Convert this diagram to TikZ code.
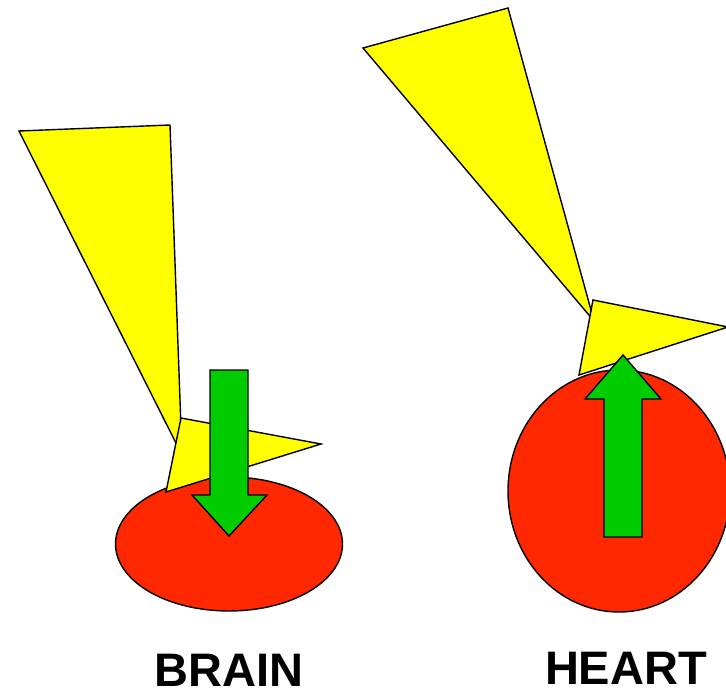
\documentclass[tikz,border=0pt]{standalone}
\usepackage{fontspec}
\setmainfont{Liberation Sans}
\definecolor{beamyellow}{RGB}{255, 255, 0}
\definecolor{organred}{RGB}{255, 40, 0}
\definecolor{flowgreen}{RGB}{0, 204, 0}

\begin{document}
\begin{tikzpicture}[x=1pt, y=-1pt,
    beam/.style={draw=black, fill=beamyellow, line width=1.4pt, line join=miter},
    organ/.style={draw=black, fill=organred, line width=1.4pt},
    flow/.style={draw=black, fill=flowgreen, line width=1.4pt},
    label_font/.style={font=\fontsize{47}{50}\selectfont\bfseries, anchor=base, inner sep=0pt}
  ]
    \useasboundingbox (0,0) rectangle (726,690);
    \clip (0,0) rectangle (726,690);

    \draw[organ] (229,544) ellipse [x radius=113.5, y radius=67];
    \draw[beam] (19,131) -- (170,125) -- (182,455) -- cycle;
    \draw[beam] (181,418) -- (321,444) -- (166,492) -- cycle;
    \draw[flow] (210,370) -- (248,370) -- (248,495) -- (267,495) -- (229,536) -- (192,495) -- (210,495) -- cycle;
    \node[label_font] (brain) at (229,686) {BRAIN};

    \draw[organ] (619,491) ellipse [x radius=111, y radius=121];
    \draw[beam] (363,48) -- (508,8) -- (594,321) -- cycle;
    \draw[beam] (593,300) -- (728,327) -- (579,375) -- cycle;
    \draw[flow] (604,537) -- (642,537) -- (642,399) -- (661,399) -- (623,355) -- (585,399) -- (604,399) -- cycle;
    \node[label_font] (heart) at (626,684) {HEART};
  \end{tikzpicture}
\end{document}
